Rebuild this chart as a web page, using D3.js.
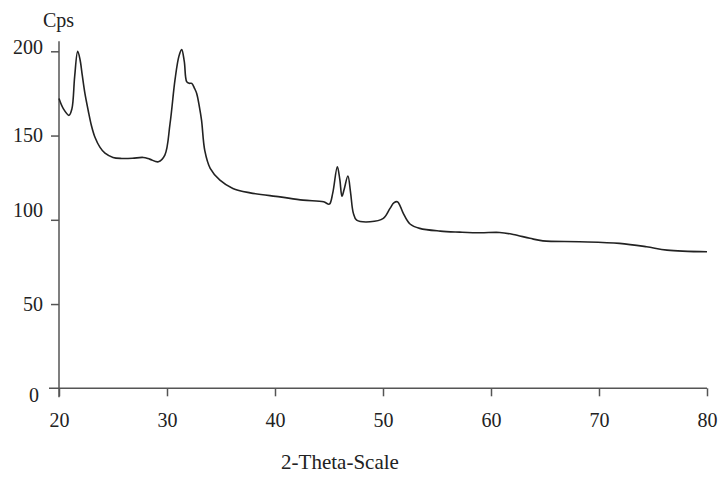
<!DOCTYPE html>
<html>
<head>
<meta charset="utf-8">
<script src="https://cdn.jsdelivr.net/npm/d3@7"></script>
<style>
  html, body { margin: 0; padding: 0; background: #fff; }
  svg text { font-family: "Liberation Serif", "DejaVu Serif", serif; fill: #222; }
</style>
</head>
<body>
<svg id="chart" width="719" height="477"></svg>
<script>
// XRD pattern: diffraction angle (2θ) and intensity (counts per second)
const twoTheta = [
  20.0, 20.4, 20.93, 21.2, 21.45, 21.73, 21.95, 22.15, 22.4, 22.7, 23.0, 23.33, 23.8, 24.26, 25.0, 25.8,
  26.8, 27.8, 28.4, 29.2, 29.8, 30.28, 30.74, 31.1, 31.36, 31.6, 31.82, 32.05, 32.29, 32.55, 32.75,
  33.0, 33.2, 33.5, 34.0, 34.9, 36.1, 37.7, 40.46, 42.6, 44.5, 45.03, 45.35, 45.77, 46.0, 46.2,
  46.4, 46.75, 47.0, 47.25, 47.56, 48.8, 50.03, 50.65, 51.0, 51.33, 51.6, 51.88, 52.5, 53.4,
  55.3, 57.1, 59.0, 60.8, 62.06, 63.6, 64.8, 68.2, 71.9, 74.4, 76.3, 80.0
];
const cps = [
  172, 166, 162, 166, 185, 200, 195, 186, 175, 165, 156, 149, 143, 139.5, 137, 136.4,
  136.5, 137, 136, 134.4, 138.4, 157, 183, 197, 201, 194, 182, 181, 181, 178, 175,
  167, 159, 141, 130.5, 123.5, 118.6, 116, 113.6, 111.7, 110.7, 109.3, 116, 131.5, 124, 114,
  118, 126, 116, 104, 99.8, 98.8, 100.8, 106.8, 110, 110.7, 108, 103.8, 97.5, 94.9,
  93.3, 92.7, 92.3, 92.5, 91.3, 89, 87.5, 87, 86, 84, 82, 81
];
const xTicks = [20, 30, 40, 50, 60, 70, 80];
const yTicks = [0, 50, 100, 150, 200];
const yLabelText = "Cps";
const xLabelText = "2-Theta-Scale";

const svg = d3.select("#chart");
const axisColor = "#555";

const x = d3.scaleLinear().domain([20, 80]).range([59, 707]);
const y = d3.scaleLinear().domain([0, 200]).range([388.3, 51.3]);

// x axis
const gx = svg.append("g").attr("transform", `translate(0,${y(0)})`)
  .call(d3.axisBottom(x).tickValues(xTicks).tickFormat(d3.format("d"))
    .tickSize(8).tickSizeOuter(0).tickPadding(17));
gx.select(".domain").remove();
gx.selectAll(".tick line").attr("stroke", axisColor).attr("stroke-width", 1.5);
gx.selectAll(".tick text").attr("font-size", 20).attr("fill", "#222");
gx.append("line")
  .attr("x1", 49).attr("x2", x(80))
  .attr("stroke", axisColor).attr("stroke-width", 1.5);

// y axis
const gy = svg.append("g").attr("transform", `translate(${x(20)},0)`)
  .call(d3.axisLeft(y).tickValues(yTicks).tickFormat(d3.format("d"))
    .tickSize(8).tickSizeOuter(0).tickPadding(8));
gy.select(".domain").remove();
gy.selectAll(".tick line").attr("stroke", axisColor).attr("stroke-width", 1.5);
gy.selectAll(".tick text").attr("font-size", 20).attr("fill", "#222")
  .attr("dy", d => d === 0 ? "0.68em" : d === 100 ? "-0.15em" : d === 200 ? "0.1em" : "0.32em")
  .attr("dx", d => d === 0 ? "-0.2em" : 0);
gy.selectAll(".tick").filter(d => d === 0).select("line").remove();
gy.append("line")
  .attr("y1", y(206)).attr("y2", y(0) + 9)
  .attr("stroke", axisColor).attr("stroke-width", 1.5);

// axis titles
svg.append("text").attr("x", 43).attr("y", 27)
  .attr("font-size", 20).text(yLabelText);
svg.append("text").attr("x", 340).attr("y", 469)
  .attr("text-anchor", "middle").attr("font-size", 21).text(xLabelText);

// diffraction curve
const data = twoTheta.map((t, i) => ({ t, c: cps[i] }));
const line = d3.line().x(d => x(d.t)).y(d => y(d.c)).curve(d3.curveCatmullRom.alpha(0.5));
svg.append("path").datum(data)
  .attr("d", line)
  .attr("fill", "none")
  .attr("stroke", "#222")
  .attr("stroke-width", 1.6)
  .attr("stroke-linejoin", "round");
</script>
</body>
</html>
